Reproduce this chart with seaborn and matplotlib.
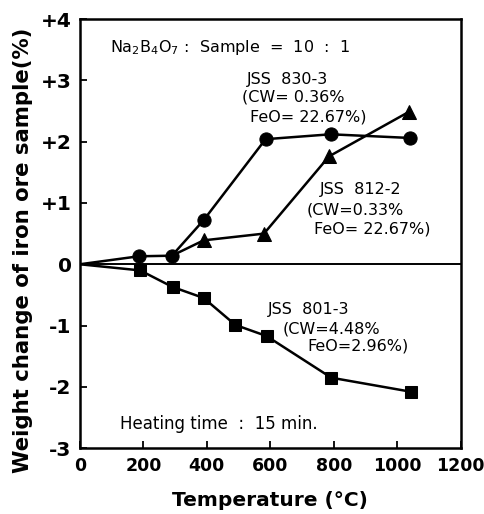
import matplotlib
matplotlib.use("Agg")
import matplotlib.pyplot as plt
import seaborn as sns
import pandas as pd

# Data
temp_830 = [0, 185, 290, 390, 585, 790, 1040]
wc_830 = [0, 0.13, 0.14, 0.72, 2.04, 2.12, 2.06]
mark_830 = [False, True, True, True, True, True, True]

temp_812 = [290, 390, 580, 785, 1038]
wc_812 = [0.14, 0.39, 0.50, 1.76, 2.49]
mark_812 = [False, True, True, True, True]

temp_801 = [0, 190, 292, 390, 490, 588, 792, 1044]
wc_801 = [0, -0.10, -0.37, -0.55, -0.99, -1.17, -1.85, -2.08]
mark_801 = [False, True, True, True, True, True, True, True]

yticks = [4, 3, 2, 1, 0, -1, -2, -3]
ytick_labels = ["+4", "+3", "+2", "+1", "0", "-1", "-2", "-3"]
xticks = [0, 200, 400, 600, 800, 1000, 1200]

sns.set_style("ticks")
plt.rcParams["font.family"] = ["DejaVu Sans"]
plt.rcParams["text.color"] = "black"

fig = plt.figure(figsize=(4.84, 5.14), dpi=100)
ax = fig.add_axes([0.165, 0.128, 0.787, 0.835])

series = [
    (temp_830, wc_830, mark_830, "o", 9.5),
    (temp_812, wc_812, mark_812, "^", 9.5),
    (temp_801, wc_801, mark_801, "s", 8.5),
]
for xs, ys, mk, m, ms in series:
    df = pd.DataFrame({"t": xs, "w": ys})
    sns.lineplot(data=df, x="t", y="w", ax=ax, color="black", lw=1.8,
                 marker=m, markersize=ms, markevery=mk, markeredgecolor="black",
                 sort=False)

ax.axhline(0, color="black", lw=1.4)

ax.set_xlim(0, 1200)
ax.set_ylim(-3, 4)
ax.set_xticks(xticks)
ax.set_xticklabels([str(v) for v in xticks], fontsize=12.5, fontweight="bold",
                   color="black")
ax.set_yticks(yticks)
ax.set_yticklabels(ytick_labels, fontsize=14.5, fontweight="bold", color="black")
ax.tick_params(direction="in", length=5, width=1.3, pad=6, colors="black")
for s in ax.spines.values():
    s.set_linewidth(1.8)
    s.set_color("black")

ax.set_xlabel("Temperature (°C)", fontsize=14.5, fontweight="bold", labelpad=12,
              color="black")
ax.set_ylabel("Weight change of iron ore sample(%)", fontsize=15.3,
              fontweight="bold", color="black")
ax.yaxis.set_label_coords(-0.122, 0.46)

fs = 11.5
ax.text(94, 3.53, "Na$_2$B$_4$O$_7$ :  Sample  =  10  :  1", fontsize=fs, va="center")
ax.text(525, 3.02, "JSS  830-3", fontsize=fs, va="center")
ax.text(512, 2.73, "(CW= 0.36%", fontsize=fs, va="center")
ax.text(535, 2.41, "FeO= 22.67%)", fontsize=fs, va="center")
ax.text(755, 1.22, "JSS  812-2", fontsize=fs, va="center")
ax.text(713, 0.89, "(CW=0.33%", fontsize=fs, va="center")
ax.text(739, 0.57, "FeO= 22.67%)", fontsize=fs, va="center")
ax.text(592, -0.73, "JSS  801-3", fontsize=fs, va="center")
ax.text(639, -1.06, "(CW=4.48%", fontsize=fs, va="center")
ax.text(718, -1.33, "FeO=2.96%)", fontsize=fs, va="center")
ax.text(126, -2.6, "Heating time  :  15 min.", fontsize=12, va="center")

fig.savefig("out.png", dpi=100)
